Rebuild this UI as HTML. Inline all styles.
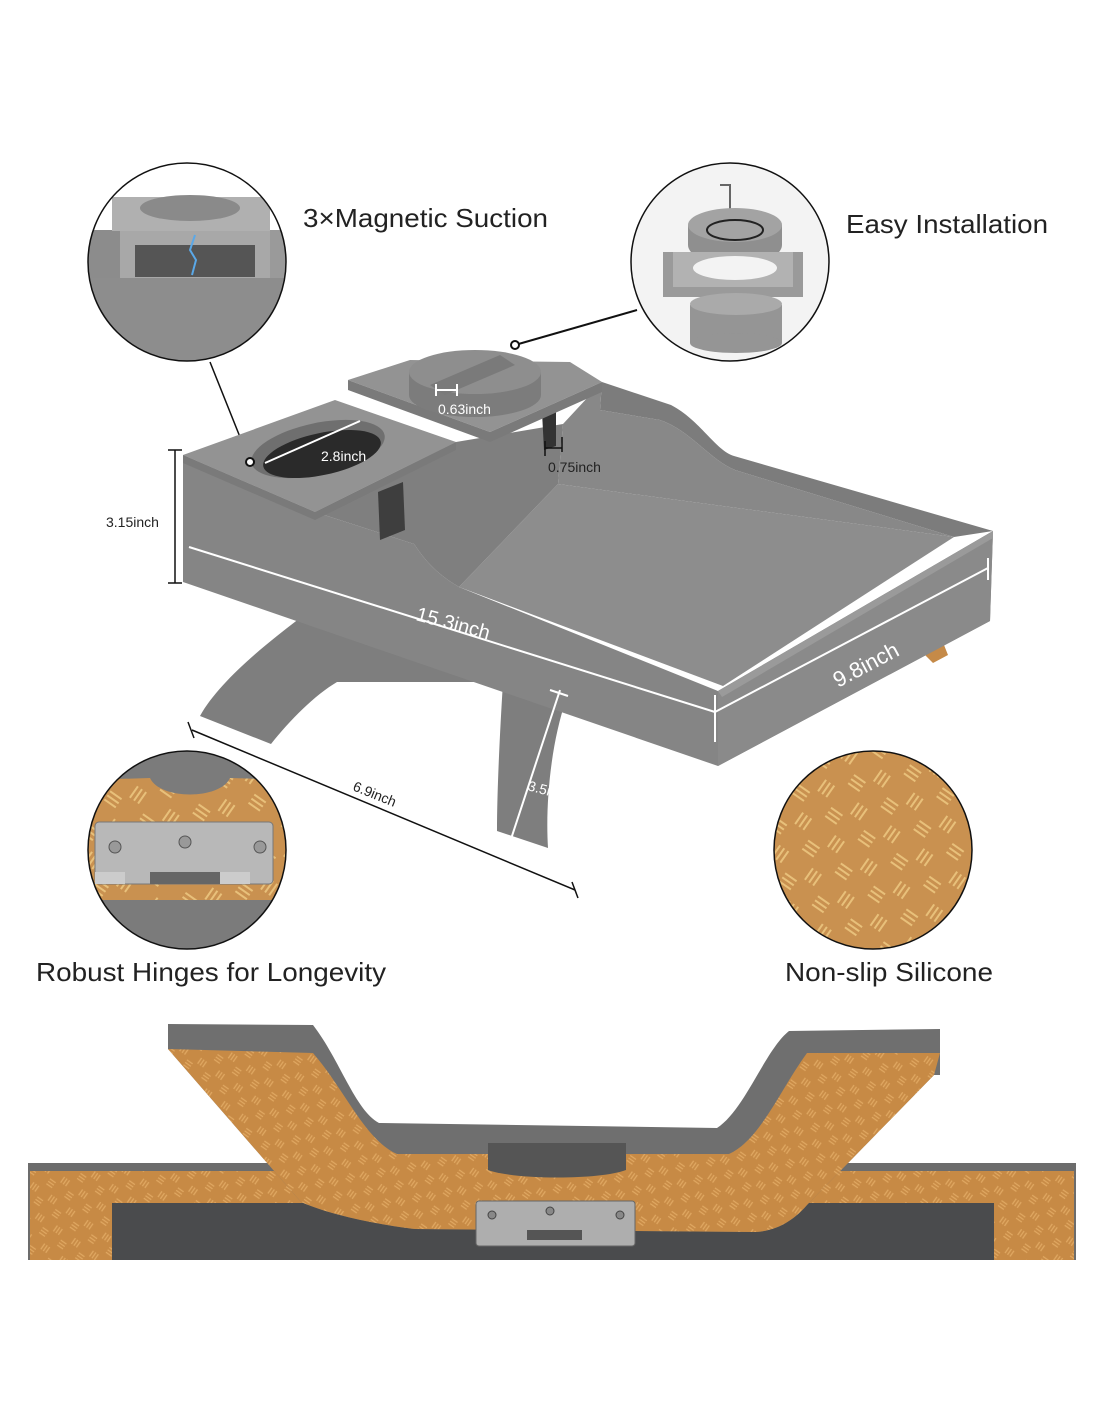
<!DOCTYPE html>
<html><head><meta charset="utf-8"><style>
html,body{margin:0;padding:0;background:#fff;}
svg{display:block;}
text{font-family:"Liberation Sans",sans-serif;}
</style></head><body>
<svg width="1100" height="1422" viewBox="0 0 1100 1422" xmlns="http://www.w3.org/2000/svg">
<defs>
<pattern id="sil" width="22" height="22" patternUnits="userSpaceOnUse" patternTransform="rotate(35)">
<rect width="22" height="22" fill="#c78a45"/>
<path d="M2 3v7M5 3v7M8 3v7M13 13h7M13 16h7M13 19h7" stroke="#e0a862" stroke-width="1.3"/>
</pattern>
<pattern id="sil2" width="40" height="40" patternUnits="userSpaceOnUse" patternTransform="rotate(35)">
<rect width="40" height="40" fill="#c99150"/>
<path d="M4 5v14M9 5v14M14 5v14M24 25h14M24 30h14M24 35h14" stroke="#e8c07a" stroke-width="2"/>
</pattern>
<clipPath id="c1"><circle cx="187" cy="262" r="99"/></clipPath>
<clipPath id="c2"><circle cx="730" cy="262" r="99"/></clipPath>
<clipPath id="c3"><circle cx="187" cy="850" r="99"/></clipPath>
</defs>

<g clip-path="url(#c1)">
<rect x="80" y="150" width="220" height="230" fill="#9a9a9a"/>
<rect x="80" y="150" width="220" height="80" fill="#fff"/>
<rect x="80" y="230" width="40" height="150" fill="#8c8c8c"/>
<rect x="120" y="228" width="150" height="50" fill="#a8a8a8"/>
<rect x="135" y="245" width="120" height="32" fill="#555"/>
<rect x="112" y="197" width="158" height="34" fill="#b0b0b0"/>
<ellipse cx="190" cy="208" rx="50" ry="13" fill="#8a8a8a"/>
<path d="M195 235l-5 15 6 10-4 15" stroke="#5aa8e8" stroke-width="2" fill="none"/>
<rect x="80" y="278" width="220" height="110" fill="#8d8d8d"/>
</g>
<circle cx="187" cy="262" r="99" fill="none" stroke="#111" stroke-width="1.5"/>
<line x1="210" y1="362" x2="250" y2="462" stroke="#111" stroke-width="1.5"/>

<g clip-path="url(#c2)">
<rect x="620" y="150" width="220" height="230" fill="#f3f3f3"/>
<path d="M720 185h10v90" stroke="#666" stroke-width="2" fill="none"/>
<ellipse cx="735" cy="245" rx="47" ry="20" fill="#8f8f8f"/>
<rect x="688" y="225" width="94" height="20" fill="#8f8f8f"/>
<ellipse cx="735" cy="225" rx="47" ry="17" fill="#a3a3a3"/>
<ellipse cx="735" cy="230" rx="28" ry="10" fill="none" stroke="#222" stroke-width="2"/>
<rect x="663" y="252" width="140" height="45" fill="#9a9a9a"/>
<rect x="673" y="252" width="120" height="35" fill="#b2b2b2"/>
<ellipse cx="735" cy="268" rx="42" ry="12" fill="#f3f3f3"/>
<rect x="690" y="305" width="92" height="38" fill="#959595"/>
<ellipse cx="736" cy="304" rx="46" ry="11" fill="#aaa"/>
<ellipse cx="736" cy="343" rx="46" ry="10" fill="#959595"/>
</g>
<circle cx="730" cy="262" r="99" fill="none" stroke="#111" stroke-width="1.5"/>
<line x1="637" y1="310" x2="515" y2="345" stroke="#111" stroke-width="2"/>

<text x="303" y="227" font-size="26" textLength="245" lengthAdjust="spacingAndGlyphs" fill="#222">3×Magnetic Suction</text>
<text x="846" y="233" font-size="26" textLength="202" lengthAdjust="spacingAndGlyphs" fill="#222">Easy Installation</text>

<path d="M315 607 C270 640 220 680 200 716 L271 744 C290 720 315 695 337 682 L503 682 C500 730 497 790 497 831 L548 848 C545 800 552 740 566 700 L566 640 Z" fill="#7e7e7e"/>
<path d="M300 600 L560 690 L560 700 L300 615 Z" fill="#666"/>
<path d="M920 650 l20 -15 l8 20 l-15 8 z" fill="#c58a48"/>

<path d="M183 455 L183 582 L718 766 L990 621 L993 531 L718 691 L459 587 C430 570 420 552 414 544 L315 512 Z" fill="#858585"/>
<path d="M718 691 L993 531 L990 621 L718 766 Z" fill="#8a8a8a"/>
<path d="M459 587 L558 484 L954 537 L723 686 Z" fill="#8d8d8d"/>
<path d="M602 382 L671 405 C700 420 715 450 734 456 L993 531 L954 537 L735 470 C710 460 690 430 660 420 L600 410 Z" fill="#7c7c7c"/>
<path d="M558 484 L563 424 L602 382 L600 410 L660 420 C690 430 710 460 735 470 L954 537 Z" fill="#888"/>
<path d="M718 691 L993 531 L993 538 L722 697 Z" fill="#9a9a9a"/>
<path d="M315 512 L456 442 L563 424 L558 484 L459 587 C430 570 420 552 414 544 Z" fill="#7f7f7f"/>
<path d="M378 492 L403 482 L405 530 L380 540 Z" fill="#3e3e3e"/>
<path d="M542 412 L556 408 L556 446 L544 450 Z" fill="#333"/>
<path d="M183 455 L335 400 L456 442 L315 512 Z" fill="#939393"/>
<path d="M183 455 L315 512 L456 442 L456 450 L315 520 L183 463 Z" fill="#7a7a7a"/>
<ellipse cx="318" cy="449" rx="68" ry="26" transform="rotate(-12 318 449)" fill="#6f6f6f"/>
<ellipse cx="322" cy="454" rx="60" ry="21" transform="rotate(-12 322 454)" fill="#2a2a2a"/>
<circle cx="250" cy="462" r="4" fill="#fff" stroke="#111" stroke-width="2"/>
<path d="M348 380 L410 360 L570 362 L602 382 L490 432 Z" fill="#939393"/>
<path d="M348 380 L490 432 L602 382 L602 392 L490 442 L348 390 Z" fill="#7a7a7a"/>
<ellipse cx="475" cy="395" rx="66" ry="22" fill="#7c7c7c"/>
<rect x="409" y="372" width="132" height="23" fill="#7c7c7c"/>
<ellipse cx="475" cy="372" rx="66" ry="22" fill="#8e8e8e"/>
<path d="M430 385 L500 355 L515 365 L445 395 Z" fill="#7a7a7a"/>
<circle cx="515" cy="345" r="4" fill="#fff" stroke="#111" stroke-width="2"/>

<g stroke="#fff" stroke-width="2" fill="none">
<line x1="189" y1="547" x2="715" y2="712"/>
<line x1="715" y1="712" x2="988" y2="568"/>
<line x1="715" y1="695" x2="715" y2="742"/>
<line x1="988" y1="558" x2="988" y2="580"/>
<line x1="265" y1="463" x2="360" y2="421"/>
<line x1="436" y1="390" x2="457" y2="390"/><line x1="436" y1="384" x2="436" y2="396"/><line x1="457" y1="384" x2="457" y2="396"/>
<line x1="560" y1="690" x2="510" y2="842"/><line x1="550" y1="690" x2="568" y2="696"/><line x1="502" y1="840" x2="517" y2="846"/>
</g>
<g stroke="#111" stroke-width="1.5">
<line x1="545" y1="448" x2="562" y2="448"/><line x1="545" y1="441" x2="545" y2="456"/><line x1="562" y1="437" x2="562" y2="452"/>
<line x1="175" y1="450" x2="175" y2="583"/><line x1="168" y1="450" x2="182" y2="450"/><line x1="168" y1="583" x2="182" y2="583"/>
<line x1="192" y1="730" x2="575" y2="890"/><line x1="188" y1="722" x2="194" y2="738"/><line x1="572" y1="882" x2="578" y2="898"/>
</g>
<g fill="#fff" font-size="14">
<text x="321" y="461">2.8inch</text>
<text x="438" y="414">0.63inch</text>
<text x="548" y="472" fill="#222">0.75inch</text>
<text x="415" y="620" font-size="20" transform="rotate(15 415 620)">15.3inch</text>
<text x="838" y="688" font-size="22" transform="rotate(-28 838 688)">9.8inch</text>
<text x="527" y="790" font-size="14" transform="rotate(15 527 790)">3.5inch</text>
</g>
<text x="106" y="527" font-size="14" fill="#222">3.15inch</text>
<text x="352" y="790" font-size="14" fill="#222" transform="rotate(22 352 790)">6.9inch</text>

<g clip-path="url(#c3)">
<rect x="85" y="750" width="210" height="210" fill="#7b7b7b"/>
<path d="M85 780 L150 778 C160 800 220 800 230 778 L295 780 L295 900 L85 900 Z" fill="url(#sil2)"/>
<rect x="95" y="822" width="178" height="62" rx="4" fill="#b8b8b8" stroke="#777"/>
<circle cx="115" cy="847" r="6" fill="#999" stroke="#555"/><circle cx="185" cy="842" r="6" fill="#999" stroke="#555"/><circle cx="260" cy="847" r="6" fill="#999" stroke="#555"/>
<rect x="150" y="872" width="70" height="12" fill="#666"/>
<rect x="95" y="872" width="30" height="12" fill="#ccc"/><rect x="220" y="872" width="30" height="12" fill="#ccc"/>
</g>
<circle cx="187" cy="850" r="99" fill="none" stroke="#111" stroke-width="1.5"/>

<circle cx="873" cy="850" r="99" fill="url(#sil2)" stroke="#111" stroke-width="1.5"/>

<text x="36" y="981" font-size="26" textLength="350" lengthAdjust="spacingAndGlyphs" fill="#222">Robust Hinges for Longevity</text>
<text x="785" y="981" font-size="26" textLength="208" lengthAdjust="spacingAndGlyphs" fill="#222">Non-slip Silicone</text>

<rect x="28" y="1163" width="1048" height="97" fill="#6c6c6c"/>
<rect x="30" y="1171" width="1044" height="89" fill="url(#sil)"/>
<rect x="112" y="1203" width="882" height="57" fill="#4a4b4d"/>
<path d="M168 1024 L313 1025 C340 1060 355 1110 379 1123 L717 1128 C745 1110 765 1050 789 1031 L940 1029 L940 1075 L934 1075 L807 1205 C790 1225 770 1232 753 1232 L415 1229 C380 1225 330 1215 301 1202 L168 1049 Z" fill="#6f6f6f"/>
<path d="M168 1049 L313 1053 C345 1090 365 1140 397 1154 L729 1154 C760 1140 780 1090 807 1053 L940 1053 L934 1075 L807 1205 C790 1225 770 1232 753 1232 L415 1229 C380 1225 330 1215 301 1202 Z" fill="url(#sil)"/>
<path d="M488 1143 L626 1143 L626 1170 C600 1180 515 1180 488 1170 Z" fill="#555"/>
<rect x="476" y="1201" width="159" height="45" rx="3" fill="#aeaeae" stroke="#666"/>
<circle cx="492" cy="1215" r="4" fill="#888" stroke="#444"/><circle cx="550" cy="1211" r="4" fill="#888" stroke="#444"/><circle cx="620" cy="1215" r="4" fill="#888" stroke="#444"/>
<rect x="527" y="1230" width="55" height="10" fill="#555"/>
</svg>
</body></html>
